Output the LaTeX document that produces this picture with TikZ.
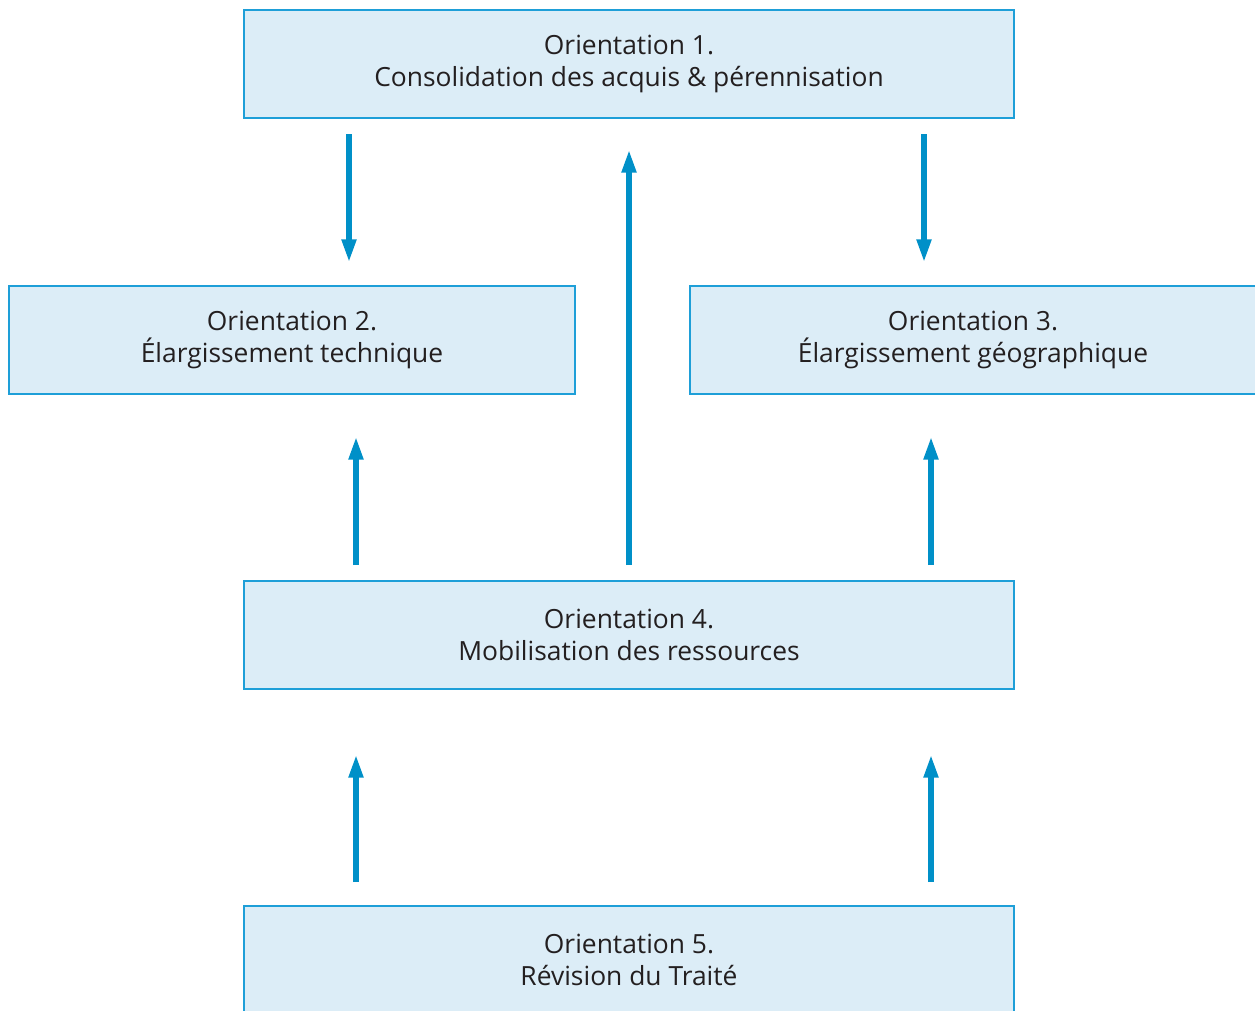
\documentclass[tikz,border=0pt]{standalone}
\usepackage{fontspec}
\setmainfont{Open Sans}
\usetikzlibrary{arrows.meta}
\definecolor{boxfill}{HTML}{DCEDF7}
\definecolor{boxline}{HTML}{1E9FD8}
\definecolor{arrowcol}{HTML}{0090C8}
\definecolor{txt}{HTML}{231F20}
\tikzset{
  orient/.style={draw=boxline, line width=1.1pt, fill=boxfill, inner sep=0pt,
    minimum height=108*0.75pt, align=center, text=txt,
    font=\fontsize{19.8}{24}\selectfont},
  flow/.style={draw=arrowcol, line width=3.8pt,
    -{Stealth[length=17pt, width=10.5pt, inset=0pt]}},
}
\begin{document}
\begin{tikzpicture}[x=0.75pt, y=-0.75pt]
\useasboundingbox (0,0) rectangle (1255,1010);
\begin{scope}
\clip (0,0) rectangle (1255,1010);
\node[orient, minimum width=770*0.75pt] (o1) at (629,64) {Orientation 1.\\Consolidation des acquis \& pérennisation};
\node[orient, minimum width=566*0.75pt] (o2) at (292,340) {Orientation 2.\\Élargissement technique};
\node[orient, minimum width=566*0.75pt] (o3) at (973,340) {Orientation 3.\\Élargissement géographique};
\node[orient, minimum width=770*0.75pt] (o4) at (629,635) {Orientation 4.\\Mobilisation des ressources};
\node[orient, minimum width=770*0.75pt] (o5) at (629,960) {Orientation 5.\\Révision du Traité};
\end{scope}
% connector ends
\coordinate (a1s) at (349,134); \coordinate (a1e) at (349,262);
\coordinate (a2s) at (629,565); \coordinate (a2e) at (629,150);
\coordinate (a3s) at (924,134); \coordinate (a3e) at (924,262);
\coordinate (a4s) at (356,565); \coordinate (a4e) at (356,437);
\coordinate (a5s) at (931,565); \coordinate (a5e) at (931,437);
\coordinate (a6s) at (356,882); \coordinate (a6e) at (356,755);
\coordinate (a7s) at (931,882); \coordinate (a7e) at (931,755);
\draw[flow] (a1s) -- (a1e);
\draw[flow] (a2s) -- (a2e);
\draw[flow] (a3s) -- (a3e);
\draw[flow] (a4s) -- (a4e);
\draw[flow] (a5s) -- (a5e);
\draw[flow] (a6s) -- (a6e);
\draw[flow] (a7s) -- (a7e);
\end{tikzpicture}
\end{document}
